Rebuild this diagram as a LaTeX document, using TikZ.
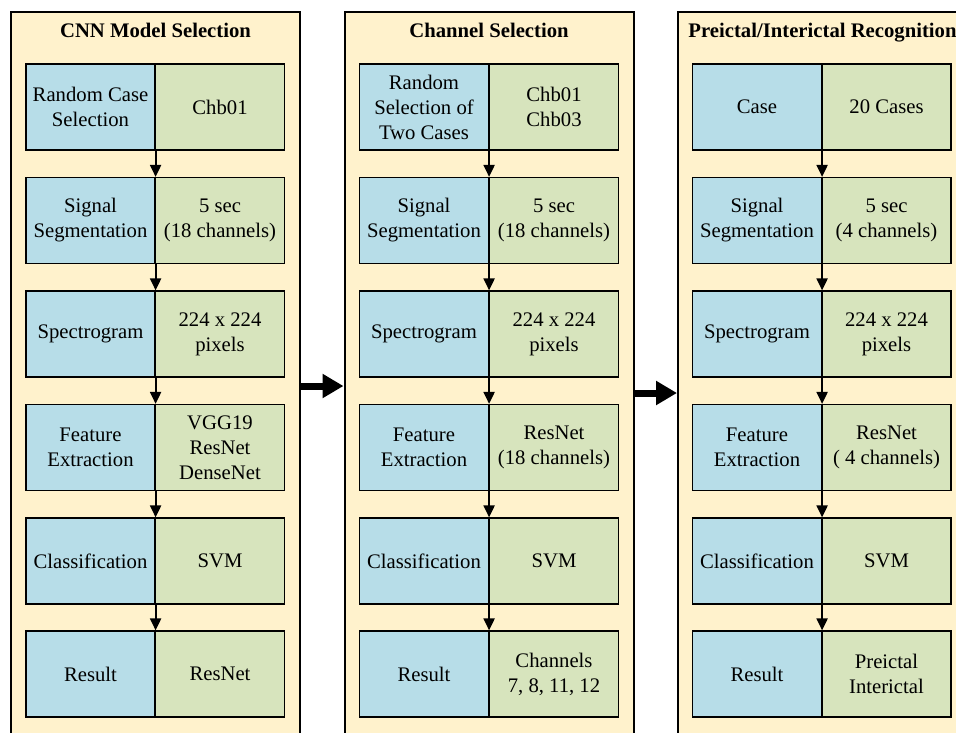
\documentclass[tikz,border=0pt]{standalone}
\usepackage{fontspec}
\setmainfont{Liberation Serif}
\usepackage{xcolor}
\usepackage{tikz}
\usetikzlibrary{arrows.meta}
\usetikzlibrary{positioning}
\definecolor{panelyellow}{RGB}{255,242,204}
\definecolor{stepblue}{RGB}{183,221,232}
\definecolor{stepgreen}{RGB}{215,228,189}
\tikzset{
    panel/.style = {rectangle, draw=black, line width=2pt, fill=panelyellow, minimum width=289pt, minimum height=754pt, inner sep=0pt},
    paneltitle/.style = {font=\fontsize{20.7}{25}\selectfont\bfseries, anchor=base},
    stepname/.style = {rectangle, draw=black, line width=1.2pt, fill=stepblue, align=center, minimum width=129pt, minimum height=86pt, inner sep=0pt},
    stepval/.style = {rectangle, draw=black, line width=1.2pt, fill=stepgreen, align=center, minimum width=129pt, minimum height=86pt, inner sep=0pt},
}

\begin{document}
\begin{tikzpicture}[
	x=1pt, y=-1pt,
	font=\fontsize{20.7}{25}\selectfont
]
\tikzset{
    flow/.style = {-{Triangle[length=12pt,width=11pt]}, line width=2pt},
    bigflow/.style = {-{Triangle[length=21pt,width=23pt]}, line width=7pt},
}
\useasboundingbox (0,0) rectangle (956,732);
% panels
\node[panel] at (155.5,389) (p1) {};
\node[panel] at (489.0,389) (p2) {};
\node[panel] at (822.5,389) (p3) {};
\node[paneltitle] at (155.5,37.5) (t1) {CNN Model Selection};
\node[paneltitle] at (489.0,37.5) (t2) {Channel Selection};
\node[paneltitle] at (822.5,37.5) (t3) {Preictal/Interictal Recognition};
%
% CNN model selection
\node[stepname] at (90.5,107.0) (a1) {Random Case\\Selection};
\node[stepval] at (220.0,107.0) (av1) {Chb01};
\node[stepname] at (90.5,220.5) (a2) {Signal\\Segmentation};
\node[stepval] at (220.0,220.5) (av2) {5 sec\\(18 channels)};
\node[stepname] at (90.5,334.0) (a3) {Spectrogram};
\node[stepval] at (220.0,334.0) (av3) {224 x 224\\pixels};
\node[stepname] at (90.5,447.5) (a4) {Feature\\Extraction};
\node[stepval] at (220.0,447.5) (av4) {VGG19\\ResNet\\DenseNet};
\node[stepname] at (90.5,561.0) (a5) {Classification};
\node[stepval] at (220.0,561.0) (av5) {SVM};
\node[stepname] at (90.5,674.0) (a6) {Result};
\node[stepval] at (220.0,674.0) (av6) {ResNet};
%
% channel selection
\node[stepname] at (424.0,107.0) (b1) {Random\\Selection of\\Two Cases};
\node[stepval] at (554.0,107.0) (bv1) {Chb01\\Chb03};
\node[stepname] at (424.0,220.5) (b2) {Signal\\Segmentation};
\node[stepval] at (554.0,220.5) (bv2) {5 sec\\(18 channels)};
\node[stepname] at (424.0,334.0) (b3) {Spectrogram};
\node[stepval] at (554.0,334.0) (bv3) {224 x 224\\pixels};
\node[stepname] at (424.0,447.5) (b4) {Feature\\Extraction};
\node[stepval] at (554.0,447.5) (bv4) {ResNet\\(18 channels)};
\node[stepname] at (424.0,561.0) (b5) {Classification};
\node[stepval] at (554.0,561.0) (bv5) {SVM};
\node[stepname] at (424.0,674.0) (b6) {Result};
\node[stepval] at (554.0,674.0) (bv6) {Channels\\7, 8, 11, 12};
%
% preictal/interictal recognition
\node[stepname] at (757.0,107.0) (c1) {Case};
\node[stepval] at (886.5,107.0) (cv1) {20 Cases};
\node[stepname] at (757.0,220.5) (c2) {Signal\\Segmentation};
\node[stepval] at (886.5,220.5) (cv2) {5 sec\\(4 channels)};
\node[stepname] at (757.0,334.0) (c3) {Spectrogram};
\node[stepval] at (886.5,334.0) (cv3) {224 x 224\\pixels};
\node[stepname] at (757.0,447.5) (c4) {Feature\\Extraction};
\node[stepval] at (886.5,447.5) (cv4) {ResNet\\( 4 channels)};
\node[stepname] at (757.0,561.0) (c5) {Classification};
\node[stepval] at (886.5,561.0) (cv5) {SVM};
\node[stepname] at (757.0,674.0) (c6) {Result};
\node[stepval] at (886.5,674.0) (cv6) {Preictal\\Interictal};
%
\draw[flow] (a1.south east) -- (a2.north east);
\draw[flow] (a2.south east) -- (a3.north east);
\draw[flow] (a3.south east) -- (a4.north east);
\draw[flow] (a4.south east) -- (a5.north east);
\draw[flow] (a5.south east) -- (a6.north east);
%
\draw[flow] (b1.south east) -- (b2.north east);
\draw[flow] (b2.south east) -- (b3.north east);
\draw[flow] (b3.south east) -- (b4.north east);
\draw[flow] (b4.south east) -- (b5.north east);
\draw[flow] (b5.south east) -- (b6.north east);
%
\draw[flow] (c1.south east) -- (c2.north east);
\draw[flow] (c2.south east) -- (c3.north east);
\draw[flow] (c3.south east) -- (c4.north east);
\draw[flow] (c4.south east) -- (c5.north east);
\draw[flow] (c5.south east) -- (c6.north east);
%
\draw[bigflow] ([yshift=3pt]p1.east) -- ([yshift=3pt]p2.west);
\draw[bigflow] ([yshift=-4pt]p2.east) -- ([yshift=-4pt]p3.west);
\end{tikzpicture}
\end{document}
